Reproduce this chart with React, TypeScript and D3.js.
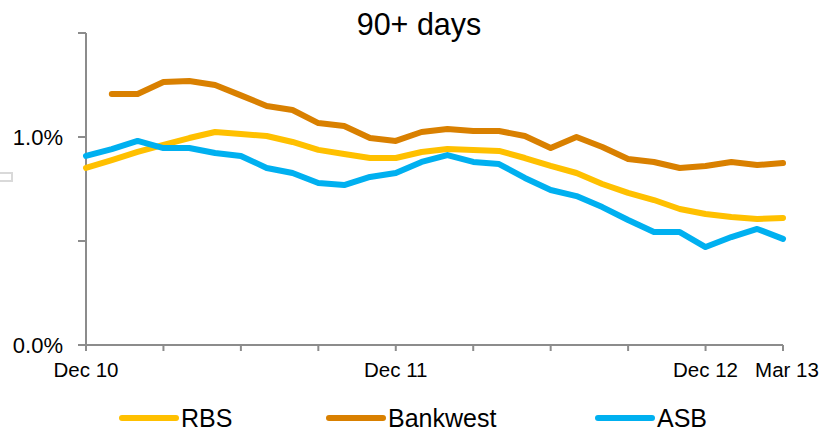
import React from "react";
import * as d3 from "d3";

const months: string[] = [
  "Dec 10", "Jan 11", "Feb 11", "Mar 11", "Apr 11", "May 11", "Jun 11", "Jul 11",
  "Aug 11", "Sep 11", "Oct 11", "Nov 11", "Dec 11", "Jan 12", "Feb 12", "Mar 12",
  "Apr 12", "May 12", "Jun 12", "Jul 12", "Aug 12", "Sep 12", "Oct 12", "Nov 12",
  "Dec 12", "Jan 13", "Feb 13", "Mar 13",
];

const rbs: (number | null)[] = [
  0.851, 0.889, 0.928, 0.962, 0.995, 1.024, 1.014, 1.005, 0.976, 0.938,
  0.918, 0.899, 0.899, 0.928, 0.942, 0.938, 0.933, 0.899, 0.861, 0.827,
  0.774, 0.731, 0.697, 0.654, 0.630, 0.615, 0.606, 0.611,
];

const bankwest: (number | null)[] = [
  null, 1.207, 1.207, 1.264, 1.269, 1.250, 1.200, 1.149, 1.130, 1.067,
  1.053, 0.995, 0.981, 1.024, 1.038, 1.029, 1.029, 1.005, 0.947, 1.000,
  0.952, 0.894, 0.880, 0.851, 0.861, 0.880, 0.865, 0.875,
];

const asb: (number | null)[] = [
  0.909, 0.942, 0.981, 0.947, 0.947, 0.923, 0.909, 0.851, 0.827, 0.779,
  0.769, 0.808, 0.827, 0.880, 0.913, 0.880, 0.870, 0.803, 0.745, 0.716,
  0.663, 0.601, 0.543, 0.543, 0.471, 0.519, 0.558, 0.510,
];

const seriesNames = ["RBS", "Bankwest", "ASB"];
const seriesColors = ["#FFC000", "#D98000", "#00B0F0"];
const seriesData = [rbs, bankwest, asb];

const yTicks = [0, 0.5, 1.0, 1.5];
const yLabels: Record<string, string> = { "0": "0.0%", "1": "1.0%" };
const xTickIdx = [0, 3, 6, 9, 12, 15, 18, 21, 24, 27];
const xLabelIdx = [0, 12, 24, 27];

const FONT = "'Liberation Sans', Arial, Helvetica, sans-serif";

export default function App() {
  const W = 821;
  const H = 431;
  const x = d3.scaleLinear().domain([0, months.length - 1]).range([86, 783]);
  const y = d3.scaleLinear().domain([0, 1.5]).range([345, 33]);

  const line = d3
    .line<number | null>()
    .defined((d) => d !== null)
    .x((_, i) => x(i))
    .y((d) => y(d as number));

  const axisColor = "#8c8c8c";
  const legendX = [122, 329, 598];

  return (
    <svg
      width={W}
      height={H}
      style={{ position: "absolute", left: 0, top: 0, background: "#fff" }}
    >
      <rect x={0} y={0} width={W} height={H} fill="#fff" />
      <text x={419} y={35} textAnchor="middle" fontFamily={FONT} fontSize={30.5} fill="#000">
        90+ days
      </text>
      <rect x={-2} y={173} width={14} height={8} fill="none" stroke="#d9d9d9" strokeWidth={2} />

      {/* y axis */}
      <line x1={x(0)} x2={x(0)} y1={y(1.5)} y2={y(0)} stroke={axisColor} strokeWidth={2} />
      {yTicks.map((t) => (
        <line key={t} x1={x(0) - 8} x2={x(0)} y1={y(t)} y2={y(t)} stroke={axisColor} strokeWidth={2} />
      ))}
      {yTicks
        .filter((t) => yLabels[String(t)])
        .map((t) => (
          <text
            key={t}
            x={63}
            y={y(t) + 8}
            textAnchor="end"
            fontFamily={FONT}
            fontSize={22}
            fill="#000"
          >
            {yLabels[String(t)]}
          </text>
        ))}

      {/* x axis */}
      <line x1={x(0)} x2={x(months.length - 1)} y1={y(0)} y2={y(0)} stroke={axisColor} strokeWidth={2} />
      {xTickIdx.map((i) => (
        <line key={i} x1={x(i)} x2={x(i)} y1={y(0)} y2={y(0) + 6} stroke={axisColor} strokeWidth={2} />
      ))}
      {xLabelIdx.map((i) => (
        <text
          key={i}
          x={i === 27 ? x(i) + 4 : x(i)}
          y={377}
          textAnchor="middle"
          fontFamily={FONT}
          fontSize={20.5}
          fill="#000"
        >
          {months[i]}
        </text>
      ))}

      {/* series */}
      {seriesData.map((d, k) => (
        <path
          key={seriesNames[k]}
          d={line(d) || ""}
          fill="none"
          stroke={seriesColors[k]}
          strokeWidth={6}
          strokeLinejoin="round"
          strokeLinecap="round"
        />
      ))}

      {/* legend */}
      {seriesNames.map((n, k) => (
        <g key={n}>
          <line
            x1={legendX[k]}
            x2={legendX[k] + 54}
            y1={418}
            y2={418}
            stroke={seriesColors[k]}
            strokeWidth={6}
            strokeLinecap="round"
          />
          <text x={legendX[k] + 59} y={427} fontFamily={FONT} fontSize={25} fill="#000">
            {n}
          </text>
        </g>
      ))}
    </svg>
  );
}
